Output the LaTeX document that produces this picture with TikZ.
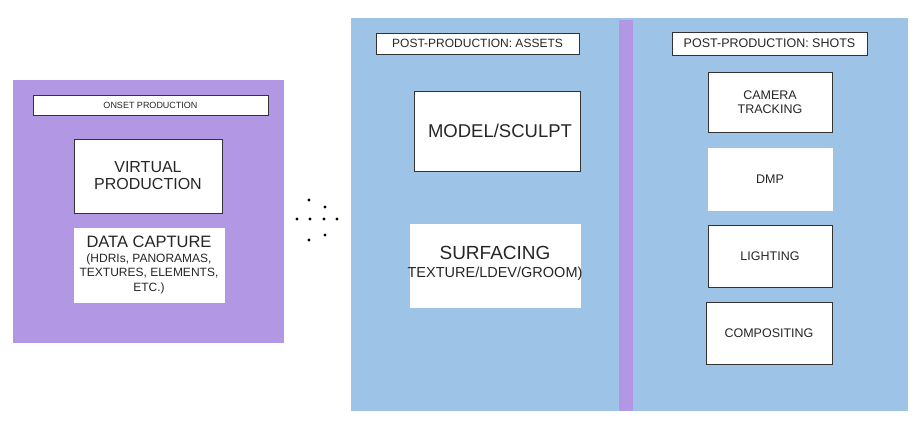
\documentclass[tikz,border=0pt]{standalone}
\usepackage{fontspec}
\setmainfont{Liberation Sans}
\definecolor{purp}{RGB}{178,152,228}
\definecolor{blu}{RGB}{157,195,230}
\begin{document}
\begin{tikzpicture}[x=1pt,y=-1pt,
  box/.style={fill=white,draw=black!80,line width=0.8pt},
  lbl/.style={align=center,text=black!85}]
\useasboundingbox (0,0) rectangle (918,424);
\fill[purp] (13,80) rectangle (284,343);
\fill[blu] (351,18) rectangle (908,411);
\fill[purp] (619,20) rectangle (633,411);
% onset
\draw[box] (33,95) rectangle (268,115);
\node[lbl,font=\fontsize{9}{9}\selectfont] (onset) at (150.5,105) {ONSET PRODUCTION};
\draw[box] (74,139) rectangle (222,213);
\node[lbl,font=\fontsize{16}{17}\selectfont] (vp) at (148,176) {VIRTUAL\\PRODUCTION};
\draw[box,draw=white] (74,228) rectangle (224,302);
\node[lbl,font=\fontsize{12}{14.5}\selectfont,inner sep=0pt] (dc) at (149,265) {{\fontsize{16.5}{17}\selectfont DATA CAPTURE}\\(HDRIs, PANORAMAS,\\TEXTURES, ELEMENTS,\\ETC.)};
% dots
\foreach \p/\n in {{(309,200)}/d1,{(325,207)}/d2,{(297,219)}/d3,{(310,219)}/d4,{(324,219)}/d5,{(337,219)}/d6,{(325,235)}/d7,{(309,240)}/d8}
  \fill[black] \p circle (1.6);
% assets
\draw[box] (376,33) rectangle (579,54);
\node[lbl,font=\fontsize{12}{12}\selectfont] (ah) at (477.5,43.5) {POST-PRODUCTION: ASSETS};
\draw[box] (414,91) rectangle (580,171);
\node[lbl,font=\fontsize{18.5}{19}\selectfont] (ms) at (500,131) {MODEL/SCULPT};
\draw[box,draw=white] (410,224) rectangle (580,307);
\node[lbl,font=\fontsize{14.5}{18}\selectfont,inner sep=0pt] (sf) at (495,263) {{\fontsize{19}{20}\selectfont SURFACING}\\TEXTURE/LDEV/GROOM)};
% shots
\draw[box] (672,32) rectangle (867,55);
\node[lbl,font=\fontsize{12.5}{12}\selectfont] (sh) at (769.5,43.5) {POST-PRODUCTION: SHOTS};
\draw[box] (708,72) rectangle (832,132);
\node[lbl,font=\fontsize{12.5}{14}\selectfont] (ct) at (770,102) {CAMERA\\TRACKING};
\draw[box,draw=white] (708,148) rectangle (832,210);
\node[lbl,font=\fontsize{12.5}{14}\selectfont] (dmp) at (770,179) {DMP};
\draw[box] (708,225) rectangle (832,287);
\node[lbl,font=\fontsize{12.5}{14}\selectfont] (lt) at (770,256) {LIGHTING};
\draw[box] (706,302) rectangle (832,364);
\node[lbl,font=\fontsize{12.5}{14}\selectfont] (cp) at (769,333) {COMPOSITING};
\end{tikzpicture}
\end{document}
